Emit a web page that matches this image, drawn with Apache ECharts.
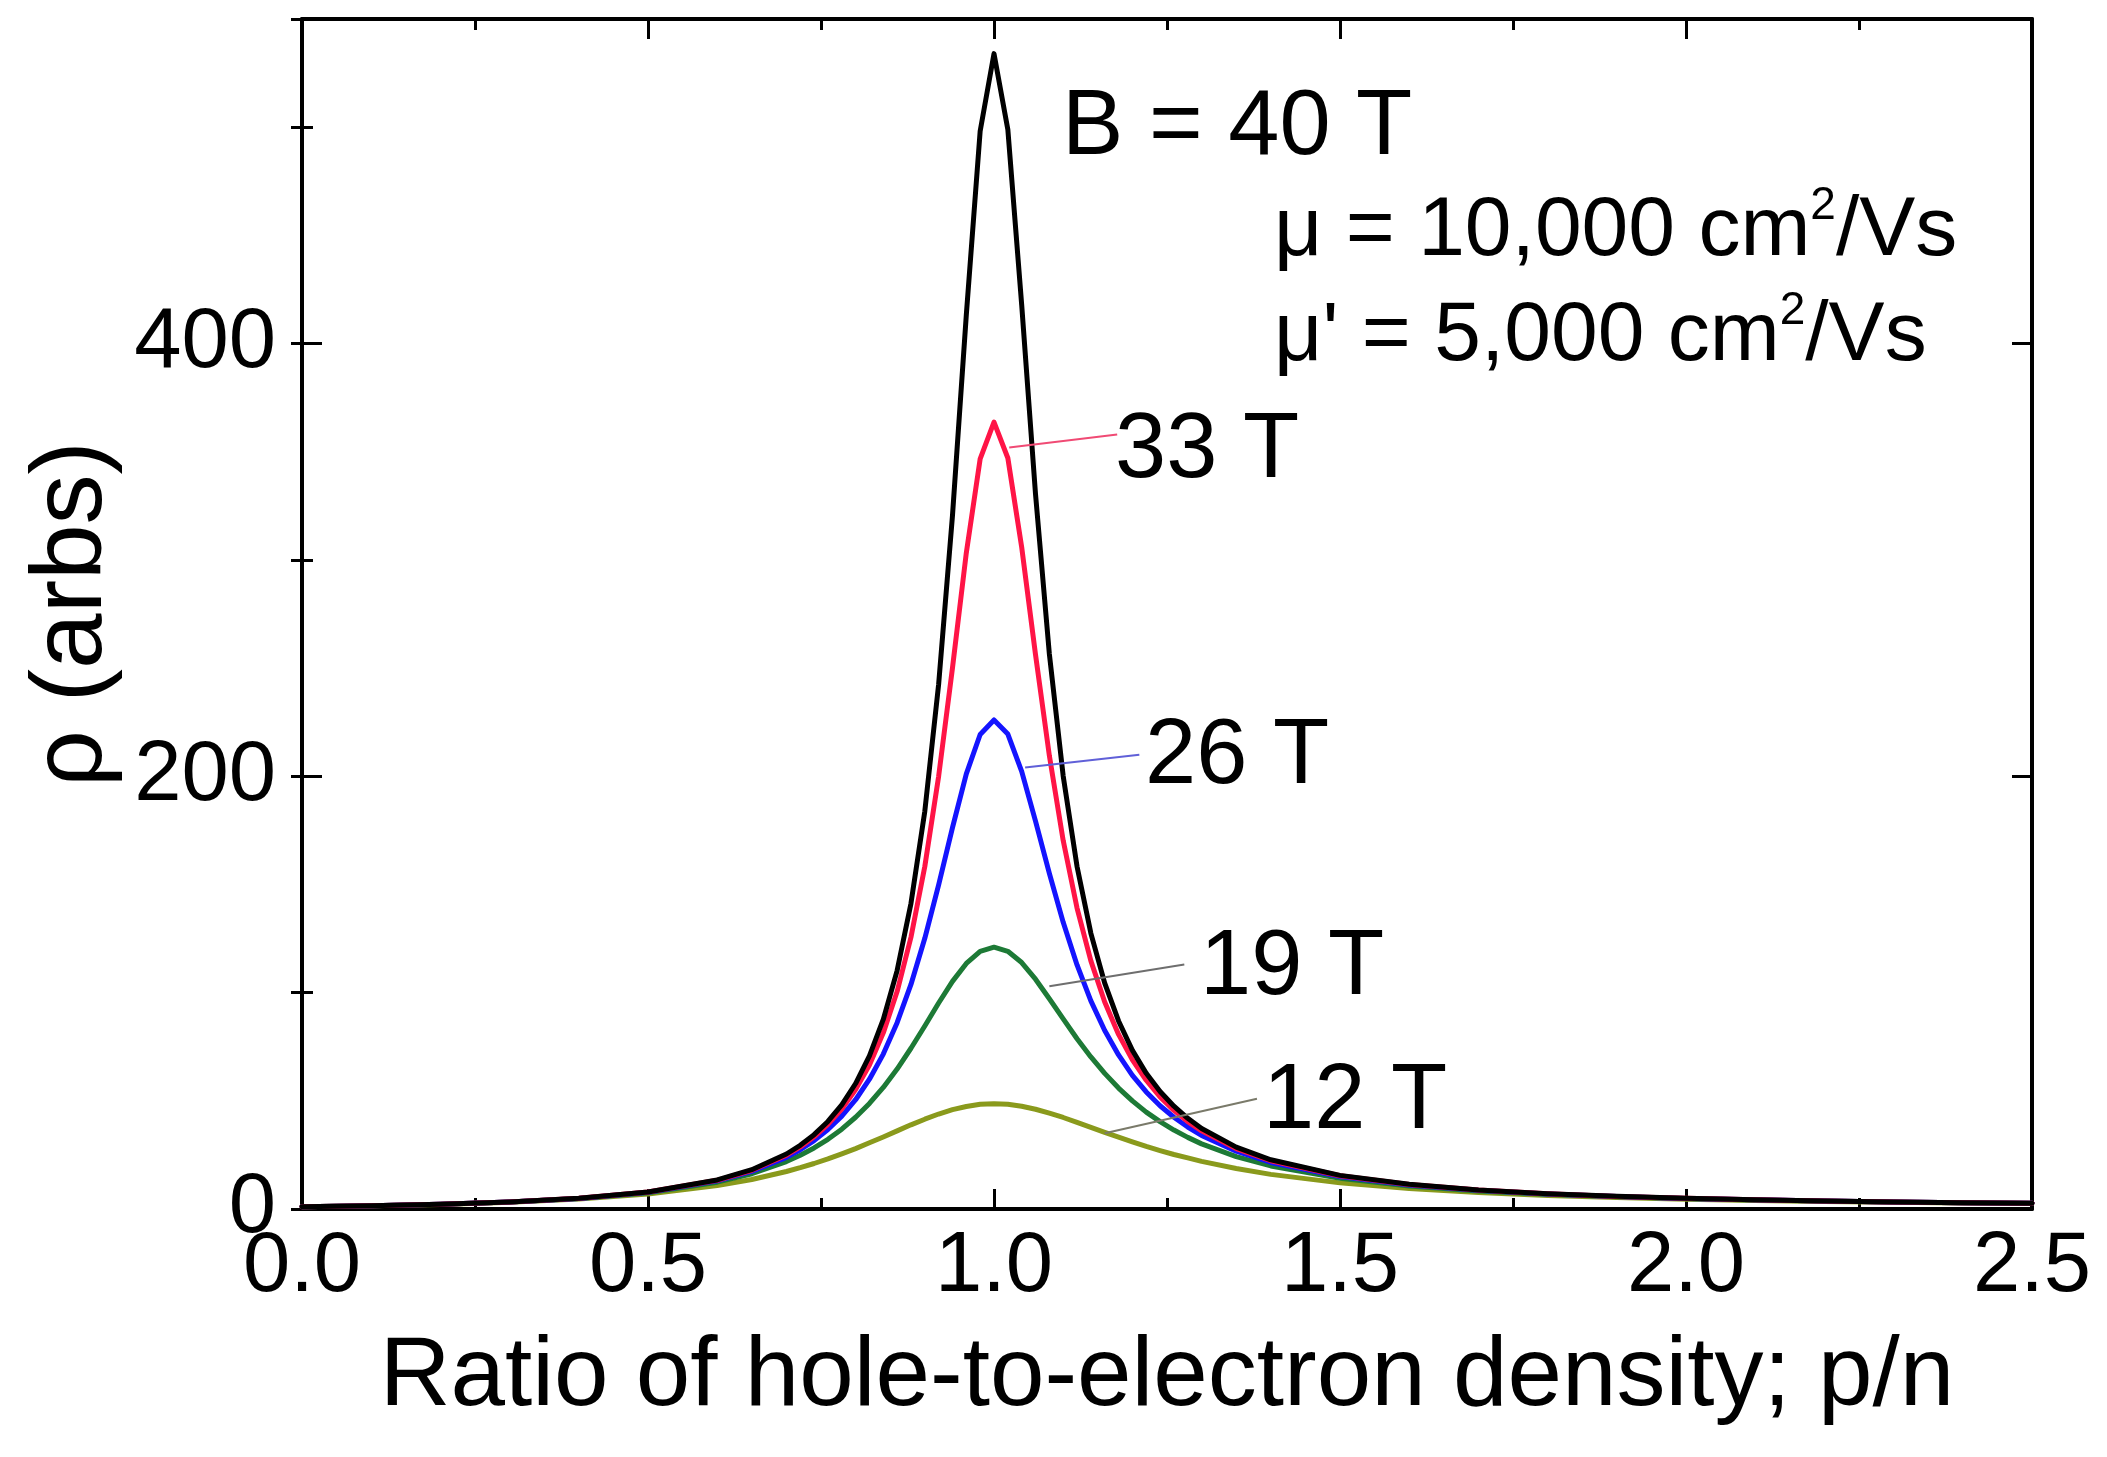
<!DOCTYPE html>
<html>
<head>
<meta charset="utf-8">
<title>Resistivity vs p/n</title>
<script src="https://cdn.jsdelivr.net/npm/echarts@6/dist/echarts.min.js"></script>
<style>
  html, body { margin: 0; padding: 0; background: #ffffff; }
  #chart { width: 2107px; height: 1457px; }
</style>
</head>
<body>
<div id="chart"></div>
<script>
// Ratio of hole-to-electron density p/n (x values shared by all curves)
const ratio = [0, 0.1, 0.2, 0.3, 0.4, 0.5, 0.6, 0.65, 0.7, 0.72, 0.74, 0.76, 0.78, 0.8,
  0.82, 0.84, 0.86, 0.88, 0.9, 0.92, 0.94, 0.96, 0.98, 1.0, 1.02, 1.04, 1.06, 1.08, 1.1,
  1.12, 1.14, 1.16, 1.18, 1.2, 1.22, 1.24, 1.26, 1.28, 1.3, 1.35, 1.4, 1.5, 1.6, 1.7,
  1.8, 1.9, 2.0, 2.1, 2.2, 2.3, 2.4, 2.5];

// Resistivity (arbs) at each field
const rho40T = [1.00, 1.48, 2.18, 3.25, 4.96, 7.89, 13.42, 18.16, 25.42, 29.44, 34.36, 40.47,
  48.17, 58.0, 70.8, 87.6, 110.2, 141.2, 183.8, 242.5, 320.5, 413.3, 498.2, 534.0, 498.9,
  417.9, 330.4, 256.5, 200.1, 158.3, 127.4, 104.4, 86.9, 73.3, 62.7, 54.3, 47.5, 41.9,
  37.2, 28.6, 22.75, 15.54, 11.42, 8.83, 7.09, 5.86, 4.96, 4.26, 3.73, 3.29, 2.94, 2.65];
const rho33T = [1.00, 1.48, 2.18, 3.24, 4.94, 7.84, 13.26, 17.88, 24.87, 28.70, 33.36, 39.09,
  46.22, 55.2, 66.6, 81.4, 100.5, 125.6, 158.3, 200.0, 250.1, 303.3, 346.7, 363.7, 347.1,
  305.9, 256.2, 209.5, 170.3, 139.1, 114.7, 95.7, 80.7, 68.9, 59.5, 51.8, 45.6, 40.4,
  36.1, 27.9, 22.3, 15.34, 11.31, 8.77, 7.05, 5.83, 4.94, 4.25, 3.71, 3.29, 2.94, 2.65];
const rho26T = [1.00, 1.48, 2.17, 3.23, 4.90, 7.74, 12.99, 17.37, 23.89, 27.40, 31.61, 36.71,
  42.92, 50.5, 60.0, 71.6, 86.1, 103.8, 125.1, 149.8, 176.3, 201.1, 219.3, 226.0, 219.5,
  202.3, 179.3, 155.1, 132.5, 112.8, 96.2, 82.5, 71.2, 61.8, 54.1, 47.7, 42.4, 37.9,
  34.0, 26.7, 21.5, 14.96, 11.11, 8.65, 6.97, 5.78, 4.90, 4.22, 3.69, 3.27, 2.92, 2.64];
const rho19T = [1.00, 1.47, 2.16, 3.20, 4.82, 7.53, 12.39, 16.31, 21.92, 24.83, 28.23, 32.22,
  36.89, 42.4, 48.8, 56.2, 64.7, 74.3, 84.6, 95.2, 105.2, 113.5, 119.1, 121.0, 119.1,
  113.9, 106.2, 97.2, 87.9, 78.7, 70.3, 62.7, 55.9, 50.0, 44.8, 40.4, 36.5, 33.1,
  30.1, 24.2, 19.9, 14.16, 10.66, 8.37, 6.80, 5.66, 4.81, 4.16, 3.64, 3.23, 2.89, 2.61];
const rho12T = [1.00, 1.46, 2.12, 3.10, 4.58, 6.94, 10.81, 13.64, 17.33, 19.09, 21.03, 23.15,
  25.46, 27.9, 30.6, 33.3, 36.1, 38.9, 41.5, 43.9, 45.9, 47.4, 48.4, 48.7, 48.4,
  47.5, 46.1, 44.3, 42.3, 40.0, 37.7, 35.4, 33.2, 31.0, 28.9, 27.0, 25.2, 23.6,
  22.0, 18.7, 16.0, 12.08, 9.45, 7.61, 6.29, 5.30, 4.55, 3.96, 3.49, 3.11, 2.80, 2.54];

// Curve labels and their leader lines ([start point], [end point] in data units)
const fieldLabels = ['12 T', '19 T', '26 T', '33 T'];
const leaders = {
  '12 T': [[1.16, 35], [1.38, 51]],
  '19 T': [[1.08, 103], [1.275, 113]],
  '26 T': [[1.045, 204], [1.21, 210]],
  '33 T': [[1.022, 352], [1.178, 358]]
};

const FONT = '"Liberation Sans", Arial, Helvetica, sans-serif';

const chart = echarts.init(document.getElementById('chart'), null, { renderer: 'canvas' });

function pairs(ys) { return ratio.map((x, i) => [x, ys[i]]); }

function curve(name, ys, color, width, label, leaderColor) {
  const s = {
    name: name,
    type: 'line',
    xAxisIndex: 0,
    yAxisIndex: 0,
    data: pairs(ys),
    showSymbol: false,
    symbol: 'none',
    smooth: false,
    lineStyle: { color: color, width: width, join: 'round', cap: 'round' },
    itemStyle: { color: color },
    emphasis: { disabled: true },
    z: 3
  };
  if (label) {
    const seg = leaders[label];
    s.markLine = {
      silent: true,
      symbol: ['none', 'none'],
      label: { show: false },
      lineStyle: { color: leaderColor, width: 2, type: 'solid' },
      emphasis: { disabled: true },
      data: [[{ coord: seg[0] }, { coord: seg[1] }]]
    };
  }
  return s;
}

const tickStyle = { color: '#000', width: 3 };
const axisLineStyle = { color: '#000', width: 4 };

const xBase = {
  type: 'value', min: 0, max: 2.5, interval: 0.5,
  axisLine: { show: true, onZero: false, lineStyle: axisLineStyle },
  axisTick: { show: true, inside: true, length: 20, lineStyle: tickStyle },
  minorTick: { show: true, splitNumber: 2, length: 11, lineStyle: tickStyle },
  splitLine: { show: false }, minorSplitLine: { show: false }
};

const yMajor = {
  type: 'value', min: 0, max: 550, interval: 200,
  axisLine: { show: true, onZero: false, lineStyle: axisLineStyle },
  axisTick: { show: true, inside: true, length: 20, lineStyle: tickStyle },
  splitLine: { show: false }
};
const yMinor = {
  type: 'value', min: 0, max: 550, interval: 100,
  axisLine: { show: false },
  axisTick: { show: true, inside: true, length: 11, lineStyle: tickStyle },
  axisLabel: { show: false },
  splitLine: { show: false }
};

chart.setOption({
  animation: false,
  backgroundColor: '#ffffff',
  textStyle: { fontFamily: FONT },
  grid: { left: 302, right: 75, top: 19, bottom: 248, containLabel: false, outerBoundsMode: 'none' },
  xAxis: [
    Object.assign({}, xBase, {
      position: 'bottom',
      axisLabel: {
        show: true, fontSize: 85, color: '#000', fontFamily: FONT, margin: 16,
        formatter: v => v.toFixed(1)
      },
      name: 'Ratio of hole-to-electron density; p/n',
      nameLocation: 'middle',
      nameGap: 120,
      nameTextStyle: { fontSize: 98, color: '#000', fontFamily: FONT }
    }),
    Object.assign({}, xBase, { position: 'top', axisLabel: { show: false } })
  ],
  yAxis: [
    Object.assign({}, yMajor, {
      position: 'left',
      axisLabel: {
        show: true, fontSize: 85, color: '#000', fontFamily: FONT, margin: 26,
        formatter: v => (v % 200 === 0 ? String(v) : '')
      },
      name: 'ρ (arbs)',
      nameLocation: 'middle',
      nameGap: 178,
      nameTextStyle: { fontSize: 100, color: '#000', fontFamily: FONT }
    }),
    Object.assign({}, yMinor, { position: 'left' }),
    Object.assign({}, yMajor, { position: 'right', axisLabel: { show: false } }),
    Object.assign({}, yMinor, { position: 'right' })
  ],
  series: [
    curve('12 T', rho12T, '#8a9a1c', 5, '12 T', '#7a7a6a'),
    curve('19 T', rho19T, '#1d7a36', 5, '19 T', '#6e6e6e'),
    curve('26 T', rho26T, '#1414ff', 5, '26 T', '#6060d8'),
    curve('33 T', rho33T, '#ff1446', 5, '33 T', '#f04a74'),
    curve('40 T', rho40T, '#000000', 5, null, null)
  ],
  graphic: [
    { type: 'text', x: 1062, y: 129, z: 10,
      style: { text: 'B = 40 T', fontSize: 92, fontFamily: FONT, fill: '#000', align: 'left', verticalAlign: 'middle' } },
    { type: 'text', x: 1274, y: 232, z: 10,
      style: {
        text: '{t|μ = 10,000 cm}{s|2}{t|/Vs}', align: 'left', verticalAlign: 'middle', fill: '#000',
        rich: {
          t: { fontSize: 84, fontFamily: FONT, lineHeight: 98, fill: '#000' },
          s: { fontSize: 46, fontFamily: FONT, verticalAlign: 'top', fill: '#000' }
        }
      } },
    { type: 'text', x: 1274, y: 337, z: 10,
      style: {
        text: "{t|μ' = 5,000 cm}{s|2}{t|/Vs}", align: 'left', verticalAlign: 'middle', fill: '#000',
        rich: {
          t: { fontSize: 84, fontFamily: FONT, lineHeight: 98, fill: '#000' },
          s: { fontSize: 46, fontFamily: FONT, verticalAlign: 'top', fill: '#000' }
        }
      } },
    { type: 'text', x: 1115, y: 452, z: 10,
      style: { text: fieldLabels[3], fontSize: 92, fontFamily: FONT, fill: '#000', align: 'left', verticalAlign: 'middle' } },
    { type: 'text', x: 1145, y: 758, z: 10,
      style: { text: fieldLabels[2], fontSize: 92, fontFamily: FONT, fill: '#000', align: 'left', verticalAlign: 'middle' } },
    { type: 'text', x: 1200, y: 969, z: 10,
      style: { text: fieldLabels[1], fontSize: 92, fontFamily: FONT, fill: '#000', align: 'left', verticalAlign: 'middle' } },
    { type: 'text', x: 1263, y: 1103, z: 10,
      style: { text: fieldLabels[0], fontSize: 92, fontFamily: FONT, fill: '#000', align: 'left', verticalAlign: 'middle' } }
  ]
});
</script>
</body>
</html>
